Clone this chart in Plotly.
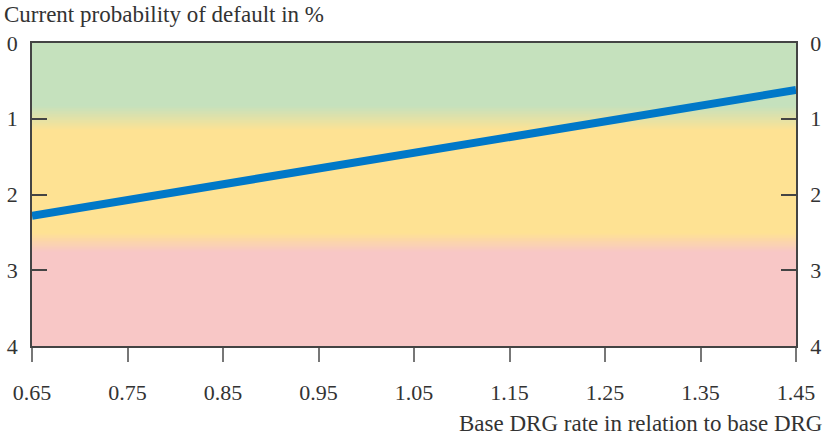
import plotly.graph_objects as go
import numpy as np

# Data
drg_rate = [0.65, 1.45]
default_prob = [2.28, 0.62]
x_ticks = [0.65, 0.75, 0.85, 0.95, 1.05, 1.15, 1.25, 1.35, 1.45]
y_ticks = [0, 1, 2, 3, 4]

# Background zone colours (probability of default)
green = "rgb(197,225,189)"
yellow = "rgb(254,226,147)"
pink = "rgb(248,199,198)"
zone_stops = [(0.0, green), (0.82, green), (1.15, yellow), (2.5, yellow), (2.75, pink), (4.0, pink)]

FONT = "Liberation Serif"
ink = "#333333"

y_grid = np.linspace(0, 4, 201)
z = [[v, v] for v in y_grid]
cscale = [[s / 4.0, c] for s, c in zone_stops]

fig = go.Figure()
fig.add_trace(go.Heatmap(
    x=[0.6, 1.5], y=y_grid, z=z, colorscale=cscale, zmin=0, zmax=4,
    zsmooth="best", showscale=False, hoverinfo="skip", yaxis="y"))
fig.add_trace(go.Scatter(
    x=drg_rate, y=default_prob, mode="lines",
    line=dict(color="rgb(0,120,200)", width=8), yaxis="y2", showlegend=False))

tickfont = dict(family=FONT, size=22, color=ink)
fig.update_layout(
    width=827, height=438,
    margin=dict(l=32, r=31, t=43, b=92),
    paper_bgcolor="white", plot_bgcolor="white",
    showlegend=False,
    xaxis=dict(range=[0.65, 1.45], tickvals=x_ticks, ticktext=[f"{v:.2f}" for v in x_ticks],
               ticks="outside", ticklen=14, tickcolor="#777777", tickwidth=1.5,
               showline=True, linecolor="#444444", linewidth=1.5, mirror=True, automargin=False,
               showgrid=False, zeroline=False, tickfont=tickfont, ticklabelstandoff=12),
    yaxis=dict(range=[4, 0], tickvals=y_ticks, ticks="inside", ticklen=15, tickcolor="#444444",
               tickwidth=1.5, showline=True, linecolor="#444444", linewidth=1.5, automargin=False,
               showgrid=False, zeroline=False, tickfont=tickfont, ticklabelstandoff=8),
    yaxis2=dict(range=[4, 0], tickvals=y_ticks, ticks="inside", ticklen=15, tickcolor="#444444",
                tickwidth=1.5, showline=True, linecolor="#444444", linewidth=1.5,
                overlaying="y", side="right", anchor="x", automargin=False,
                showgrid=False, zeroline=False, tickfont=tickfont, ticklabelstandoff=8),
    annotations=[
        dict(text="Current probability of default in %", xref="paper", yref="paper",
             x=-0.039, y=1.0957, xanchor="left", yanchor="middle", showarrow=False,
             font=dict(family=FONT, size=23, color=ink)),
        dict(text="Base DRG rate in relation to base DRG", xref="paper", yref="paper",
             x=1.0366, y=-0.257, xanchor="right", yanchor="middle", showarrow=False,
             font=dict(family=FONT, size=23, color=ink)),
    ],
)
fig.write_html("out.html", config={"displayModeBar": False},
               post_script="document.body.style.margin='0';document.body.style.overflow='hidden';")
